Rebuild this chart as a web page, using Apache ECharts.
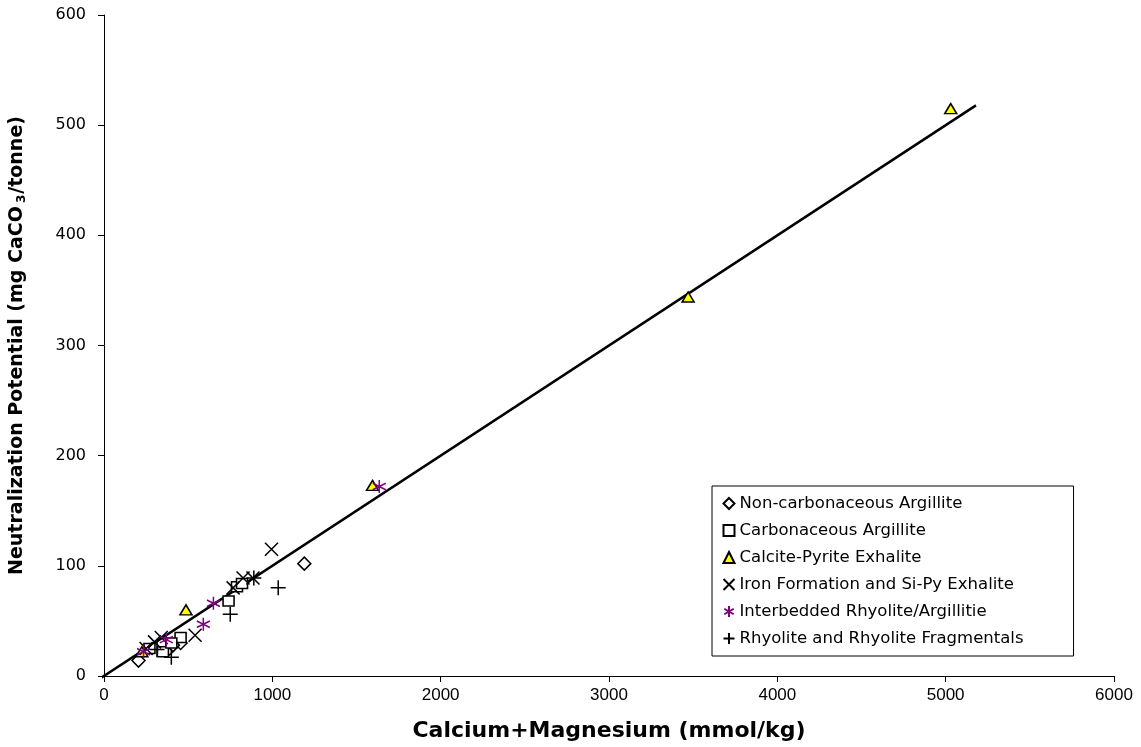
<!DOCTYPE html>
<html>
<head>
<meta charset="utf-8">
<script src="https://cdn.jsdelivr.net/npm/echarts@6/dist/echarts.min.js"></script>
<style>
  html, body { margin: 0; padding: 0; background: #fff; }
  #main { width: 1141px; height: 747px; }
</style>
</head>
<body>
<div id="main"></div>
<script>
// data: [Ca+Mg (mmol/kg), NP (mg CaCO3/tonne)]
var nonCarbonaceous = [[1190, 102], [205, 14], [390, 25], [455, 30], [410, 28]]
var carbonaceous = [[740, 68], [455, 35], [270, 25], [350, 22], [790, 81], [820, 84], [400, 30]]
var calcitePyrite = [[5030, 515], [3470, 344], [1595, 173], [487, 60], [225, 22]]
var ironFormation = [[995, 115], [826, 89], [885, 89], [767, 80], [541, 37], [340, 35], [300, 31], [250, 25]]
var interbedded = [[1635, 172], [650, 66], [590, 47], [370, 33], [235, 22]]
var rhyolite = [[1035, 80], [750, 56], [400, 17], [315, 24], [890, 89]]
var fitLine = [[-95, -9.5], [5180, 518]]

var seriesNames = [
    'Non-carbonaceous Argillite',
    'Carbonaceous Argillite',
    'Calcite-Pyrite Exhalite',
    'Iron Formation and Si-Py Exhalite',
    'Interbedded Rhyolite/Argillitie',
    'Rhyolite and Rhyolite Fragmentals'
]

var xTicks = [0, 1000, 2000, 3000, 4000, 5000, 6000]
var yTicks = [0, 100, 200, 300, 400, 500, 600]

var symX = 'path://M0,0L10,10M10,0L0,10'
var symStar = 'path://M5,0L5,10M0.7,2.5L9.3,7.5M0.7,7.5L9.3,2.5'
var symPlus = 'path://M5,0L5,10M0,5L10,5'

function scatter(name, data, symbol, size, fill, stroke) {
    return {
        name: name,
        type: 'scatter',
        data: data,
        symbol: symbol,
        symbolSize: size,
        itemStyle: { color: fill, borderColor: stroke, borderWidth: 1.5, opacity: 1 },
        z: 3
    }
}

var chart = echarts.init(document.getElementById('main'))

var option = {
    backgroundColor: '#fff',
    animation: false,
    grid: { left: 104, right: 27, top: 15, bottom: 69 },
    legend: {
        data: seriesNames,
        orient: 'vertical',
        left: 712,
        top: 486,
        width: 358,
        padding: [9, 50, 9, 9],
        itemGap: 10,
        itemWidth: 11,
        itemHeight: 11,
        borderColor: '#000',
        borderWidth: 1,
        backgroundColor: '#fff',
        textStyle: { fontFamily: 'DejaVu Sans', fontSize: 16.5, color: '#000' }
    },
    xAxis: {
        type: 'value',
        min: 0,
        max: 6000,
        interval: 1000,
        name: 'Calcium+Magnesium (mmol/kg)',
        nameLocation: 'middle',
        nameGap: 44,
        nameTextStyle: { fontFamily: 'DejaVu Sans', fontWeight: 'bold', fontSize: 22, color: '#000' },
        axisLine: { onZero: false, lineStyle: { color: '#000', width: 1 } },
        axisTick: { show: true, length: 6, lineStyle: { color: '#000' } },
        axisLabel: {
            color: '#000', fontFamily: 'Liberation Sans', fontSize: 17, margin: 11,
            formatter: function (v) { return xTicks.indexOf(v) >= 0 ? String(v) : '' }
        },
        splitLine: { show: false }
    },
    yAxis: {
        type: 'value',
        min: 0,
        max: 600,
        interval: 100,
        name: 'Neutralization Potential (mg CaCO{sub|3}/tonne)',
        nameLocation: 'middle',
        nameGap: 76,
        nameTextStyle: {
            fontFamily: 'DejaVu Sans', fontWeight: 'bold', fontSize: 19, color: '#000',
            rich: { sub: { fontFamily: 'DejaVu Sans', fontWeight: 'bold', fontSize: 12, color: '#000', padding: [9, 1, 0, 3] } }
        },
        axisLine: { show: true, onZero: false, lineStyle: { color: '#000', width: 1 } },
        axisTick: { show: true, length: 6, lineStyle: { color: '#000' } },
        axisLabel: {
            color: '#000', fontFamily: 'DejaVu Sans', fontSize: 16, margin: 18,
            formatter: function (v) { return yTicks.indexOf(v) >= 0 ? String(v) : '' }
        },
        splitLine: { show: false }
    },
    series: [
        {
            name: 'fit',
            type: 'line',
            data: fitLine,
            symbol: 'none',
            clip: false,
            lineStyle: { color: '#000', width: 2.5 },
            z: 2
        },
        scatter(seriesNames[0], nonCarbonaceous, 'diamond', [13, 13], '#fff', '#000'),
        scatter(seriesNames[1], carbonaceous, 'rect', [11, 10], '#fff', '#000'),
        scatter(seriesNames[2], calcitePyrite, 'triangle', [12, 10], '#ffff00', '#000'),
        scatter(seriesNames[3], ironFormation, symX, [13, 13], 'none', '#000'),
        scatter(seriesNames[4], interbedded, symStar, [13, 13], 'none', '#800080'),
        scatter(seriesNames[5], rhyolite, symPlus, [15, 15], 'none', '#000')
    ]
}

chart.setOption(option)
</script>
</body>
</html>
